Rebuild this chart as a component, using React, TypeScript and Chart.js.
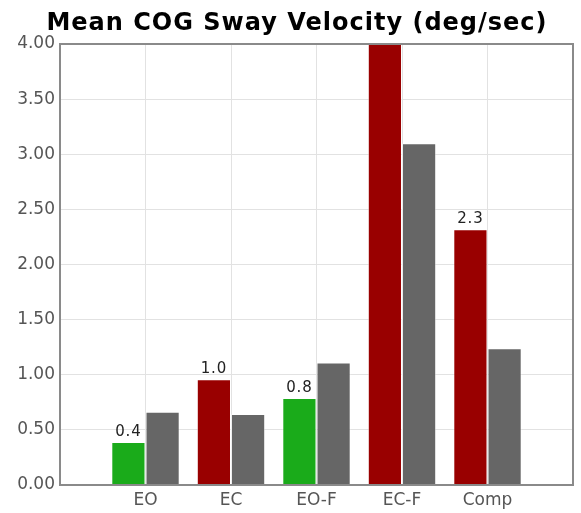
import React, { useEffect, useRef } from "react";
import { Chart, registerables } from "chart.js";

Chart.register(...registerables);

const TITLE = "Mean COG Sway Velocity (deg/sec)";
const CATEGORIES = ["", "EO", "EC", "EO-F", "EC-F", "Comp", ""];
const SUBJECT_VALUES = [null, 0.39, 0.96, 0.79, 4.35, 2.32, null];
const NORM_VALUES = [null, 0.665, 0.645, 1.11, 3.1, 1.24, null];
const SUBJECT_STATUS = ["", "pass", "fail", "pass", "fail", "fail", ""];
const Y_MIN = 0;
const Y_MAX = 4;
const Y_STEP = 0.5;

const STATUS_COLORS: Record<string, string> = {
  pass: "#1aab1a",
  fail: "#990000",
  "": "#990000",
};

const boxAndLabels = {
  id: "boxAndLabels",
  afterDatasetsDraw(chart: any) {
    const ctx = chart.ctx;
    const meta = chart.getDatasetMeta(0);
    const data = chart.data.datasets[0].data as (number | null)[];
    ctx.save();
    ctx.font = '15px "DejaVu Sans"';
    (ctx as any).letterSpacing = "0.8px";
    ctx.fillStyle = "#222222";
    ctx.textAlign = "center";
    ctx.textBaseline = "alphabetic";
    meta.data.forEach((el: any, i: number) => {
      const v = data[i];
      if (v == null || v > Y_MAX) return;
      ctx.fillText(v.toFixed(1), el.x, el.y - 6);
    });
    ctx.restore();
  },
  afterDraw(chart: any) {
    const ctx = chart.ctx;
    const a = chart.chartArea;
    ctx.save();
    ctx.strokeStyle = "#8a8a8a";
    ctx.lineWidth = 2;
    ctx.strokeRect(a.left, a.top, a.right - a.left, a.bottom - a.top);
    ctx.font = 'bold 24px "DejaVu Sans"';
    (ctx as any).letterSpacing = "1px";
    ctx.fillStyle = "#000000";
    ctx.textAlign = "center";
    ctx.textBaseline = "alphabetic";
    ctx.fillText(TITLE, 297, 30);
    ctx.restore();
  },
};

export default function App() {
  const ref = useRef<HTMLCanvasElement | null>(null);
  useEffect(() => {
    if (!ref.current) return;
    Chart.defaults.font.family = '"DejaVu Sans"';
    const chart = new Chart(ref.current, {
      type: "bar",
      data: {
        labels: CATEGORIES,
        datasets: [
          {
            label: "Subject",
            data: SUBJECT_VALUES,
            backgroundColor: SUBJECT_STATUS.map((s) => STATUS_COLORS[s]),
            borderColor: "rgba(255,255,255,0.45)",
            borderWidth: 1,
            categoryPercentage: 0.8,
            barPercentage: 1.0,
          },
          {
            label: "Norm",
            data: NORM_VALUES,
            backgroundColor: "#666666",
            borderColor: "rgba(255,255,255,0.4)",
            borderWidth: 1,
            categoryPercentage: 0.8,
            barPercentage: 1.0,
          },
        ],
      },
      options: {
        animation: false,
        responsive: true,
        maintainAspectRatio: false,
        layout: { padding: { left: 0, right: 8, top: 44, bottom: 0 } },
        plugins: {
          legend: { display: false },
          title: { display: false },
          tooltip: { enabled: false },
        },
        scales: {
          x: {
            offset: false,
            grid: { color: "#e2e2e2", lineWidth: 1, drawTicks: false, offset: false },
            border: { display: false },
            ticks: {
              color: "#555555",
              font: { size: 17 },
              padding: 5,
              autoSkip: false,
              maxRotation: 0,
            },
            afterFit: (s: any) => {
              s.height = 28;
            },
          },
          y: {
            min: Y_MIN,
            max: Y_MAX,
            grid: { color: "#e2e2e2", lineWidth: 1, drawTicks: false },
            border: { display: false },
            ticks: {
              stepSize: Y_STEP,
              color: "#555555",
              font: { size: 17 },
              padding: 5,
              callback: (v: any) => Number(v).toFixed(2),
            },
            afterFit: (s: any) => {
              s.width = 60;
            },
          },
        },
      },
      plugins: [boxAndLabels],
    });
    return () => chart.destroy();
  }, []);
  return (
    <div style={{ position: "absolute", left: 0, top: 0, width: 581, height: 513 }}>
      <canvas ref={ref} />
    </div>
  );
}
